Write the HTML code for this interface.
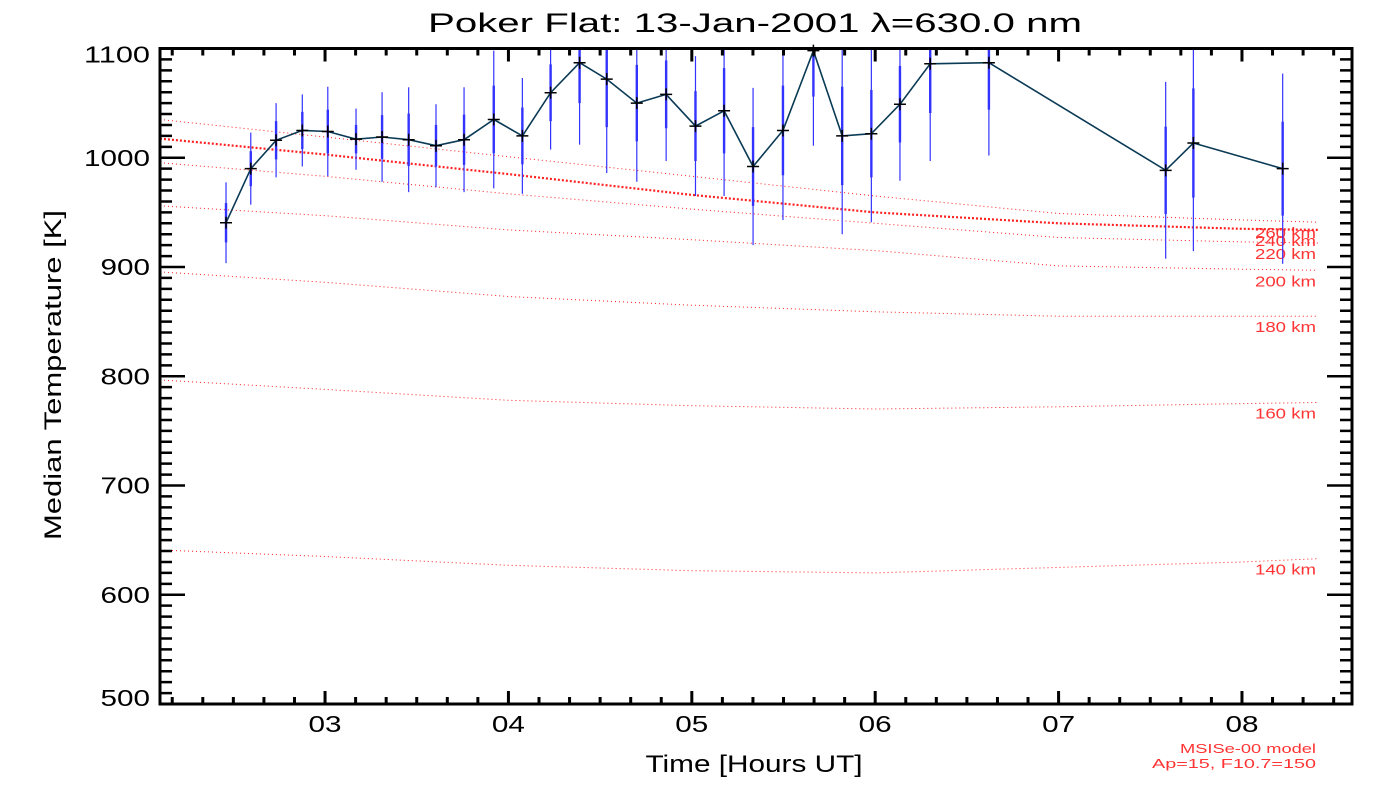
<!DOCTYPE html>
<html><head><meta charset="utf-8">
<style>
html,body{margin:0;padding:0;background:#fff;}
svg{display:block;font-family:"Liberation Sans",sans-serif;}
</style></head>
<body>
<svg id="chart" width="1400" height="800" viewBox="0 0 1400 800" xmlns="http://www.w3.org/2000/svg">
<rect width="1400" height="800" fill="#fff"/>
<text x="755" y="32" text-anchor="middle" font-size="27" textLength="654" lengthAdjust="spacingAndGlyphs" fill="#000">Poker Flat: 13-Jan-2001 λ=630.0 nm</text>
<text x="754" y="772" text-anchor="middle" font-size="24" textLength="217" lengthAdjust="spacingAndGlyphs" fill="#000">Time [Hours UT]</text>
<text x="0" y="0" transform="translate(61,375) rotate(-90)" text-anchor="middle" font-size="24" textLength="330" lengthAdjust="spacingAndGlyphs" fill="#000">Median Temperature [K]</text>
<g id="model"></g>
<g id="bars"></g>
<g id="series"></g>
<g id="axes"></g>
<text x="1316" y="753" text-anchor="end" font-size="13" textLength="136" lengthAdjust="spacingAndGlyphs" fill="#ff3333">MSISe-00 model</text>
<text x="1316" y="768" text-anchor="end" font-size="13" textLength="164" lengthAdjust="spacingAndGlyphs" fill="#ff3333">Ap=15, F10.7=150</text>
</svg>
<script>
const hours=[2.46,2.595,2.733,2.876,3.015,3.169,3.311,3.456,3.605,3.758,3.92,4.076,4.23,4.388,4.536,4.70,4.86,5.02,5.176,5.334,5.497,5.663,5.82,5.979,6.135,6.30,6.62,7.584,7.735,8.222];
const temps=[940.5,990,1016,1025,1024,1017,1019,1016.5,1011,1016.5,1035,1020,1059.5,1087,1072,1050,1058,1029,1043,992,1025,1098,1020,1022,1049,1086,1087,988.5,1013.5,990];
const errOuter=[37,33,34,33,41,28,41,48,38,48,63,53,52,75,86,72,61,64,78,72,82,87,90,81,70,89,85,81,99,87];
const errInner=[18,16,17.5,17,20,13,20,24,19,23,31,26,26,37,44,35,31,32,39,36,41,42,45,40,35,45,43,40,50,43];
const modelHours=[2.1,3,4,5,6,7,8,8.414];
const modelAlt=["260 km","240 km","220 km","200 km","180 km","160 km","140 km"];
const model260=[1035,1019,1001,983,965,949,943,941];
const model240=[1017.5,1003,985,966,950,940,935,934];
const model220=[995.5,983,967,953,940,927,923,922];
const model200=[956,947,934,925,915,901,898,897];
const model180=[895.5,886,873,865,859,855,855,855];
const model160=[796.6,788,778,773,770,772,775,776];
const model140=[641,635,627,622,620,625,630,633];
const xTicks=["03","04","05","06","07","08"];
const yTicks=[500,600,700,800,900,1000,1100];

const L=160,R=1352,T=48.5,B=704;
const X0=2.1,X1=8.6,Y0=500,Y1=1100;
const xs=h=>L+(h-X0)/(X1-X0)*(R-L);
const ys=v=>B-(v-Y0)/(Y1-Y0)*(B-T);
const NS="http://www.w3.org/2000/svg";
function mk(tag,attrs,parent){const e=document.createElementNS(NS,tag);for(const k in attrs)e.setAttribute(k,attrs[k]);parent.appendChild(e);return e;}
const clipY=v=>Math.max(T,Math.min(B,v));

const mg=document.getElementById('model');
const models=[model260,model240,model220,model200,model180,model160,model140];
models.forEach((m,i)=>{
  const pts=modelHours.map((h,j)=>xs(h).toFixed(1)+","+ys(m[j]).toFixed(1)).join(" ");
  const thick=i===1;
  const pl=mk('polyline',{points:pts,fill:'none',stroke:'#ff2020','stroke-width':thick?2.2:1,'stroke-dasharray':thick?'2 2':'1 3'},mg);
  
  
  const last=m[m.length-1];
  const t=mk('text',{x:1316,y:ys(last)+16,'text-anchor':'end','font-size':15,textLength:61,lengthAdjust:'spacingAndGlyphs',fill:'#ff3333'},mg);
  t.textContent=modelAlt[i];
  
  
});

const bg=document.getElementById('bars');
hours.forEach((h,i)=>{
  const x=xs(h);
  const o=mk('line',{x1:x,x2:x,y1:clipY(ys(temps[i]+errOuter[i])),y2:clipY(ys(temps[i]-errOuter[i])),stroke:'#3333ff','stroke-width':1.2},bg);
  
  
  const n=mk('line',{x1:x,x2:x,y1:clipY(ys(temps[i]+errInner[i])),y2:clipY(ys(temps[i]-errInner[i])),stroke:'#3333ff','stroke-width':2.4},bg);
  
  
});

const sg=document.getElementById('series');
const line=mk('polyline',{points:hours.map((h,i)=>xs(h).toFixed(1)+","+ys(temps[i]).toFixed(1)).join(" "),fill:'none',stroke:'#0a3a55','stroke-width':1.6},sg);


hours.forEach((h,i)=>{
  const x=xs(h),y=ys(temps[i]);
  const p=mk('path',{d:`M${x-6},${y}H${x+6}M${x},${y-6}V${y+6}`,stroke:'#000','stroke-width':1.5},sg);
  
  
});

const ag=document.getElementById('axes');
const box=mk('rect',{x:L,y:T,width:R-L,height:B-T,fill:'none',stroke:'#000','stroke-width':3},ag);


for(let v=Y0;v<=Y1;v+=10){
  const y=ys(v),major=v%100===0,len=major?25:12;
  const tk=mk('path',{d:`M${L},${y}H${L+len}M${R},${y}H${R-len}`,stroke:'#000','stroke-width':2.5},ag);
  
  
}
yTicks.forEach(v=>{
  const s=String(v);
  const t=mk('text',{x:150,y:ys(v)+8+(v===1100?6:0)+(v===500?-6:0),'text-anchor':'end','font-size':23,textLength:s.length*16.5,lengthAdjust:'spacingAndGlyphs',fill:'#000'},ag);
  t.textContent=s;
  
  
});
for(let k=Math.ceil(X0*6);k<=Math.floor(X1*6);k++){
  const h=k/6,x=xs(h),major=k%6===0,len=major?13:7;
  const tk=mk('path',{d:`M${x},${B}V${B-len}M${x},${T}V${T+len}`,stroke:'#000','stroke-width':3},ag);
  
  
}
xTicks.forEach(s=>{
  const t=mk('text',{x:xs(parseInt(s,10)),y:732,'text-anchor':'middle','font-size':23,textLength:33,lengthAdjust:'spacingAndGlyphs',fill:'#000'},ag);
  t.textContent=s;
  
  
});
</script>
</body></html>
